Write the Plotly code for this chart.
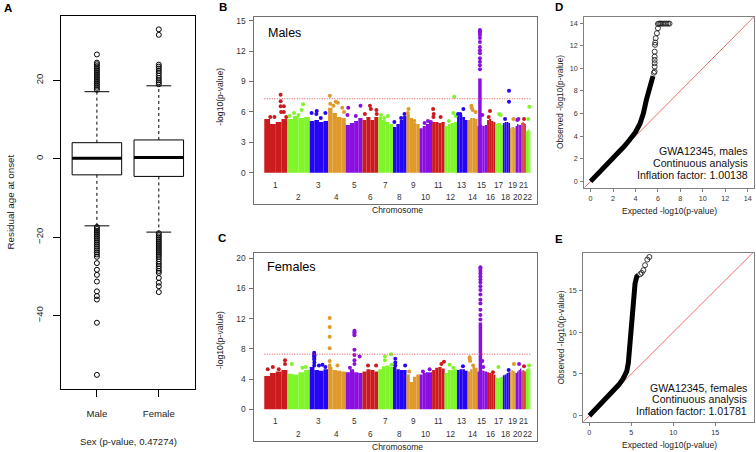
import plotly.graph_objects as go

W, H = 756, 452
FONT = "Liberation Sans, Arial, sans-serif"


def px(x):
    return x / W


def py(y):
    return 1 - y / H


# ---------------- Panel A: residual age at onset by sex ----------------
sex_labels = ["Male", "Female"]
sex_pos = [1, 2]
q1_vals = [-4.1, -4.5]
median_vals = [0.15, 0.3]
q3_vals = [4.1, 4.8]
whisker_lo = [-17.1, -18.7]
whisker_hi = [17.1, 18.6]
male_outliers = [17.6, 18.1, 18.6, 19.1, 19.6, 20.1, 20.6, 21.1, 21.6, 22.1, 22.6, 23.1,
                 23.6, 24.1, 24.5, 26.6,
                 -17.4, -17.9, -18.4, -18.9, -19.4, -19.9, -20.4, -20.9, -21.4, -21.9,
                 -22.4, -22.9, -23.4, -23.9, -24.4, -25.0, -26.6, -28.3, -29.6, -31.3,
                 -33.8, -35.0, -35.9, -41.8, -55.1]
female_outliers = [19.0, 19.5, 20.0, 20.6, 21.2, 21.8, 22.4, 23.0, 23.5, 24.0, 31.6, 33.0,
                   -19.0, -19.5, -20.0, -20.5, -21.0, -21.5, -22.0, -22.5, -23.0, -23.5,
                   -24.0, -24.5, -25.0, -25.6, -26.2, -26.8, -27.4, -28.0, -28.6, -29.1,
                   -30.4, -31.6, -32.5, -34.0]
a_yticks = [-40, -20, 0, 20]

# ---------------- Panels B/C: Manhattan plots ----------------
chrom_labels = [str(i) for i in range(1, 23)]
chrom_len_mb = [249, 243, 198, 191, 181, 171, 159, 146, 141, 136, 135, 134,
                115, 107, 103, 90, 81, 78, 59, 63, 48, 51]
chrom_palette = ["#CB1B1E", "#80F52B", "#2405F5", "#DF9A2B", "#8A10E2"]
gw_threshold = 7.3

males_mass = [
    [5.3, 4.8, 5.0, 5.3], [5.3, 5.6, 5.4, 5.5], [5.1, 5.2, 5.0, 5.1], [6.4, 5.9, 5.5, 5.4],
    [4.7, 4.9, 5.1, 5.4], [5.2, 5.5, 5.2, 5.5], [5.5, 5.2, 5.0, 4.8], [4.5, 4.8, 5.2, 5.6],
    [5.8, 5.4, 4.9, 4.8], [4.4, 4.6, 4.8, 4.9], [5.0, 5.0, 4.9, 5.0], [4.6, 4.8, 4.9, 5.0],
    [5.6, 5.7, 5.5, 5.2], [5.2, 5.4, 5.4, 5.3], [4.6, 4.7, 4.6, 4.7], [5.2, 5.3, 5.1, 5.0],
    [4.8, 4.9, 4.9, 4.7], [4.9, 5.0, 5.0, 4.9], [4.4, 4.5, 4.5, 4.4], [4.6, 4.8, 4.7, 4.7],
    [4.9, 5.0, 4.9, 4.8], [4.1, 4.2, 4.3, 4.1]]
males_hits = [
    (1, 0.71, 7.7), (1, 0.71, 7.05), (1, 0.71, 6.55), (1, 0.73, 6.0), (1, 0.85, 6.55),
    (1, 0.85, 6.0), (1, 0.26, 5.5), (1, 0.44, 5.5), (1, 0.95, 5.5),
    (2, 0.64, 6.2), (2, 0.70, 6.75), (2, 0.3, 5.9), (2, 0.5, 5.7), (2, 0.1, 5.6),
    (3, 0.10, 5.9), (3, 0.38, 6.1), (3, 0.36, 5.8), (3, 0.85, 5.9), (3, 0.6, 5.4),
    (4, 0.10, 7.6), (4, 0.43, 7.0), (4, 0.55, 6.9), (4, 0.8, 6.4), (4, 0.12, 6.8),
    (4, 0.9, 6.0), (4, 0.3, 6.6),
    (5, 0.15, 6.4), (5, 0.88, 6.6), (5, 0.6, 5.6), (5, 0.1, 5.7),
    (6, 0.47, 6.6), (6, 0.53, 6.3), (6, 0.88, 6.2), (6, 0.15, 5.8), (6, 0.9, 5.8),
    (7, 0.18, 5.7), (7, 0.65, 5.6), (7, 0.4, 5.4),
    (8, 0.1, 5.0), (8, 0.85, 5.8), (8, 0.6, 5.4),
    (9, 0.15, 6.3), (9, 0.1, 5.9), (9, 0.6, 5.1),
    (10, 0.67, 5.1), (10, 0.4, 4.9), (10, 0.9, 5.0),
    (11, 0.08, 6.3), (11, 0.13, 5.8), (11, 0.68, 5.5), (11, 0.1, 5.5),
    (12, 0.78, 7.5), (12, 0.7, 5.9), (12, 0.35, 5.1), (12, 0.9, 5.6),
    (13, 0.6, 6.3), (13, 0.1, 5.8), (13, 0.3, 5.8),
    (14, 0.38, 6.6), (14, 0.5, 6.2), (14, 0.8, 6.0), (14, 0.4, 6.4),
    (15, 0.5, 5.7), (16, 0.35, 6.1), (16, 0.2, 5.5), (17, 0.5, 5.8), (17, 0.7, 5.7),
    (18, 0.85, 8.1), (18, 0.85, 7.0), (18, 0.3, 5.3), (19, 0.6, 5.3), (20, 0.5, 5.3),
    (20, 0.3, 5.2), (21, 0.6, 5.3), (22, 0.75, 6.5), (22, 0.5, 5.3)]
males_peak_chrom = 15
males_peak_pos = 0.25
males_peak_dense_top = 9.3
males_peak_values = [14.09, 13.95, 13.8, 13.6, 13.3, 12.9, 12.4, 12.1, 11.8, 11.3,
                     10.96, 10.6, 10.2]

females_mass = [
    [4.4, 4.8, 5.0, 5.2], [4.7, 4.6, 4.9, 5.2], [5.6, 5.2, 5.1, 5.3], [5.6, 5.2, 5.1, 5.0],
    [4.9, 5.3, 4.9, 4.8], [5.0, 5.3, 5.2, 5.0], [5.3, 5.7, 5.8, 5.6], [5.6, 5.3, 5.2, 5.2],
    [4.6, 3.6, 4.3, 4.6], [4.6, 4.8, 4.9, 4.9], [5.2, 5.5, 5.6, 5.4], [4.8, 5.2, 5.2, 5.3],
    [5.2, 5.3, 5.3, 5.1], [5.0, 5.3, 5.6, 5.5], [5.0, 5.2, 5.1, 5.0], [4.9, 4.8, 4.7, 4.6],
    [4.2, 4.1, 4.2, 4.3], [4.5, 4.6, 4.8, 4.9], [5.0, 5.2, 5.1, 5.0], [4.8, 5.0, 5.2, 5.4],
    [5.0, 5.2, 5.1, 5.0], [5.3, 5.4, 5.5, 5.3]]
females_hits = [
    (1, 0.15, 5.3), (1, 0.37, 5.6), (1, 0.9, 6.5), (1, 0.9, 6.0), (1, 0.63, 5.3),
    (2, 0.2, 6.0), (2, 0.82, 5.6), (2, 0.67, 5.5),
    (3, 0.24, 7.5), (3, 0.24, 7.3), (3, 0.25, 7.15), (3, 0.24, 7.0), (3, 0.25, 6.8),
    (3, 0.24, 6.6), (3, 0.25, 6.2), (3, 0.24, 5.8), (3, 0.69, 5.9), (3, 0.5, 5.8),
    (3, 0.85, 5.6),
    (4, 0.09, 12.1), (4, 0.09, 10.9), (4, 0.09, 9.6), (4, 0.09, 8.1), (4, 0.09, 6.4),
    (4, 0.09, 5.8), (4, 0.53, 5.8),
    (5, 0.52, 10.4), (5, 0.52, 10.2), (5, 0.52, 10.0), (5, 0.52, 9.8), (5, 0.52, 7.9),
    (5, 0.52, 7.2), (5, 0.52, 6.5), (5, 0.52, 6.0), (5, 0.83, 7.0), (5, 0.25, 5.5),
    (6, 0.35, 5.8), (6, 0.86, 5.8),
    (7, 0.45, 7.0), (7, 0.45, 6.5), (7, 0.87, 7.3), (7, 0.9, 5.9),
    (8, 0.17, 6.7), (8, 0.17, 6.2), (8, 0.17, 5.8), (8, 0.9, 5.8),
    (9, 0.2, 5.0), (10, 0.27, 5.0), (10, 0.8, 5.3),
    (11, 0.74, 6.0), (11, 0.95, 6.3), (12, 0.4, 5.9), (12, 0.7, 5.5), (13, 0.56, 5.7),
    (14, 0.2, 6.9), (14, 0.2, 6.7), (14, 0.25, 6.4), (14, 0.55, 5.8),
    (15, 0.5, 6.4), (15, 0.6, 5.6), (16, 0.7, 4.9), (17, 0.4, 5.6), (18, 0.8, 5.2),
    (19, 0.7, 6.0), (20, 0.6, 6.0), (21, 0.6, 5.7), (22, 0.7, 5.8)]
females_peak_chrom = 15
females_peak_pos = 0.3
females_peak_dense_top = 11.5
females_peak_values = [18.8, 18.6, 18.3, 18.0, 17.6, 17.2, 16.8, 16.3, 15.8, 15.2, 14.5,
                       14.0, 13.2, 12.5, 11.9]

b_yticks = [0, 3, 6, 9, 12, 15]
c_yticks = [0, 4, 8, 12, 16, 20]

# ---------------- Panels D/E: QQ plots ----------------
qq_m_dense_exp = [0, 1, 2, 3, 3.5, 4.0, 4.4, 4.7, 4.97, 5.27, 5.56]
qq_m_dense_obs = [0, 1.0, 2.05, 3.1, 3.7, 4.35, 5.1, 6.0, 7.2, 8.4, 9.3]
qq_m_tail_exp = [5.64, 5.71, 5.71, 5.71, 5.71, 5.71, 5.71, 5.74, 5.76, 5.8, 5.91, 6.0,
                 6.0, 6.1, 6.2, 6.3, 6.45, 6.6, 6.75, 6.9, 7.03]
qq_m_tail_obs = [9.6, 9.71, 10.15, 10.45, 10.74, 11.03, 11.47, 12.07, 12.27, 12.66, 13.1,
                 13.54, 13.92, 13.95, 13.95, 13.95, 13.95, 13.95, 13.95, 13.95, 13.95]
qq_f_dense_exp = [0, 1, 2, 3, 3.5, 4.0, 4.45, 4.64, 4.76, 4.93, 5.05, 5.24, 5.44, 5.64, 5.83]
qq_f_dense_obs = [0, 1.0, 2.05, 3.1, 3.7, 4.4, 5.3, 6.3, 7.9, 9.8, 11.8, 13.8, 15.8, 16.6, 16.8]
qq_f_tail_exp = [6.05, 6.23, 6.43, 6.63, 6.9, 7.14]
qq_f_tail_obs = [16.9, 17.06, 17.38, 17.98, 18.65, 18.96]
d_ticks = [0, 2, 4, 6, 8, 10, 12, 14]
e_ticks = [0, 5, 10, 15]
qq_text_males = ["GWA12345, males", "Continuous analysis", "Inflation factor: 1.00138"]
qq_text_females = ["GWA12345, females", "Continuous analysis", "Inflation factor: 1.01781"]

fig = go.Figure()

# ---------- Panel A traces ----------
fig.add_trace(go.Box(
    x=sex_pos, q1=q1_vals, median=median_vals, q3=q3_vals,
    lowerfence=q1_vals, upperfence=q3_vals, width=0.8, whiskerwidth=0,
    fillcolor="white", line=dict(color="black", width=1), boxpoints=False,
    xaxis="x", yaxis="y", showlegend=False, hoverinfo="skip"))
for i, xc in enumerate(sex_pos):
    fig.add_trace(go.Scatter(x=[xc - 0.4, xc + 0.4], y=[median_vals[i]] * 2, mode="lines",
                             line=dict(color="black", width=3), xaxis="x", yaxis="y"))
    for a, b in ((q3_vals[i], whisker_hi[i]), (q1_vals[i], whisker_lo[i])):
        fig.add_trace(go.Scatter(x=[xc, xc], y=[a, b], mode="lines",
                                 line=dict(color="black", width=1, dash="3px,3px"),
                                 xaxis="x", yaxis="y"))
        fig.add_trace(go.Scatter(x=[xc - 0.2, xc + 0.2], y=[b, b], mode="lines",
                                 line=dict(color="black", width=1), xaxis="x", yaxis="y"))
for xc, outs in zip(sex_pos, [male_outliers, female_outliers]):
    fig.add_trace(go.Scatter(x=[xc] * len(outs), y=outs, mode="markers",
                             marker=dict(symbol="circle-open", size=5, color="black",
                                         line=dict(width=1)),
                             xaxis="x", yaxis="y"))

# ---------- Manhattan traces ----------
offsets = []
acc = 0
for L in chrom_len_mb:
    offsets.append(acc)
    acc += L
genome_total = acc


def chrom_color(c):
    return chrom_palette[(c - 1) % len(chrom_palette)]


def add_manhattan(mass, hits, pk_chrom, pk_pos, pk_top, pk_vals, xa, ya):
    bx, by, bw, bc = [], [], [], []
    for ci, heights in enumerate(mass):
        n = len(heights)
        seg = chrom_len_mb[ci] / n
        for k, h in enumerate(heights):
            bx.append(offsets[ci] + (k + 0.5) * seg)
            by.append(h)
            bw.append(seg * 1.01)
            bc.append(chrom_color(ci + 1))
    fig.add_trace(go.Bar(x=bx, y=by, width=bw, marker=dict(color=bc, line=dict(width=0)),
                         xaxis=xa, yaxis=ya, hoverinfo="skip"))
    hx = [offsets[c - 1] + p * chrom_len_mb[c - 1] for c, p, v in hits]
    hy = [v for c, p, v in hits]
    hc = [chrom_color(c) for c, p, v in hits]
    fig.add_trace(go.Scatter(x=hx, y=hy, mode="markers",
                             marker=dict(size=4, color=hc, line=dict(width=0)),
                             xaxis=xa, yaxis=ya))
    pkx = offsets[pk_chrom - 1] + pk_pos * chrom_len_mb[pk_chrom - 1]
    fig.add_trace(go.Scatter(x=[pkx, pkx], y=[0, pk_top], mode="lines",
                             line=dict(color=chrom_color(pk_chrom), width=3.5),
                             xaxis=xa, yaxis=ya))
    fig.add_trace(go.Scatter(x=[pkx] * len(pk_vals), y=pk_vals, mode="markers",
                             marker=dict(size=4, color=chrom_color(pk_chrom)),
                             xaxis=xa, yaxis=ya))
    fig.add_trace(go.Scatter(x=[0, genome_total], y=[gw_threshold] * 2, mode="lines",
                             line=dict(color="#E8484B", width=1, dash="1px,1.5px"),
                             xaxis=xa, yaxis=ya))


add_manhattan(males_mass, males_hits, males_peak_chrom, males_peak_pos,
              males_peak_dense_top, males_peak_values, "x2", "y2")
add_manhattan(females_mass, females_hits, females_peak_chrom, females_peak_pos,
              females_peak_dense_top, females_peak_values, "x3", "y3")

# ---------- QQ traces ----------
for dex, dob, tex, tob, xa, ya in (
        (qq_m_dense_exp, qq_m_dense_obs, qq_m_tail_exp, qq_m_tail_obs, "x4", "y4"),
        (qq_f_dense_exp, qq_f_dense_obs, qq_f_tail_exp, qq_f_tail_obs, "x5", "y5")):
    fig.add_trace(go.Scatter(x=[-1, 25], y=[-1, 25], mode="lines",
                             line=dict(color="#E06060", width=0.9), xaxis=xa, yaxis=ya))
    fig.add_trace(go.Scatter(x=dex, y=dob, mode="lines",
                             line=dict(color="black", width=5), xaxis=xa, yaxis=ya))
    fig.add_trace(go.Scatter(x=tex, y=tob, mode="markers",
                             marker=dict(symbol="circle-open", size=5, color="#222",
                                         line=dict(width=0.9)),
                             xaxis=xa, yaxis=ya))

# ---------- Layout ----------
tickfont_a = dict(family=FONT, size=9.6, color="#222")
tickfont_m = dict(family=FONT, size=8.4, color="#333")
tickfont_q = dict(family=FONT, size=7.2, color="#333")
base = dict(showgrid=False, zeroline=False, showline=True, mirror=True, linewidth=1)

fig.update_layout(
    width=W, height=H, margin=dict(l=0, r=0, t=0, b=0),
    paper_bgcolor="white", plot_bgcolor="white", showlegend=False,
    barmode="overlay", font=dict(family=FONT, color="#222"),
    xaxis=dict(base, domain=[px(61), px(194.7)], anchor="y", range=[0.42, 2.58],
               tickvals=sex_pos, ticktext=sex_labels, ticks="outside", ticklen=7,
               tickcolor="black", linecolor="black", tickfont=tickfont_a,
               ticklabelstandoff=8),
    yaxis=dict(base, domain=[py(389), py(16)], anchor="x", range=[-58.7, 36.4],
               tickvals=a_yticks, ticks="outside", ticklen=7, tickcolor="black",
               linecolor="black", tickangle=-90, tickfont=tickfont_a, ticklabelstandoff=6),
    xaxis2=dict(base, domain=[px(254.3), px(537)], anchor="y2", range=[-108, 2949],
                showticklabels=False, ticks="", linecolor="#707070"),
    yaxis2=dict(base, domain=[py(204), py(16.7)], anchor="x2", range=[-3.09, 15.4],
                tickvals=b_yticks, ticks="outside", ticklen=4, tickcolor="#707070",
                linecolor="#707070", tickfont=tickfont_m, ticklabelstandoff=2),
    xaxis3=dict(base, domain=[px(254.3), px(537)], anchor="y3", range=[-108, 2949],
                showticklabels=False, ticks="", linecolor="#707070"),
    yaxis3=dict(base, domain=[py(440.7), py(253.3)], anchor="x3", range=[-4.16, 20.66],
                tickvals=c_yticks, ticks="outside", ticklen=4, tickcolor="#707070",
                linecolor="#707070", tickfont=tickfont_m, ticklabelstandoff=2),
    xaxis4=dict(base, domain=[px(584.3), px(754)], anchor="y4", range=[-0.56, 14.56],
                tickvals=d_ticks, ticks="outside", ticklen=3, tickcolor="#808080",
                linecolor="#808080", tickfont=tickfont_q, ticklabelstandoff=1),
    yaxis4=dict(base, domain=[py(187.7), py(16.7)], anchor="x4", range=[-0.56, 14.56],
                tickvals=d_ticks, ticks="outside", ticklen=3, tickcolor="#808080",
                linecolor="#808080", tickfont=tickfont_q, ticklabelstandoff=1),
    xaxis5=dict(base, domain=[px(583.3), px(754)], anchor="y5", range=[-0.72, 19.6],
                tickvals=e_ticks, ticks="outside", ticklen=3, tickcolor="#808080",
                linecolor="#808080", tickfont=tickfont_q, ticklabelstandoff=1),
    yaxis5=dict(base, domain=[py(421.7), py(253.3)], anchor="x5", range=[-0.7, 19.4],
                tickvals=e_ticks, ticks="outside", ticklen=3, tickcolor="#808080",
                linecolor="#808080", tickfont=tickfont_q, ticklabelstandoff=1),
)

ann = []


def text(x, y, s, size, xanchor="center", angle=0, color="#222", bold=False):
    ann.append(dict(x=px(x), y=py(y), xref="paper", yref="paper", text=f"<b>{s}</b>" if bold else s,
                    showarrow=False, xanchor=xanchor, yanchor="middle", textangle=angle,
                    font=dict(family=FONT, size=size, color=color)))


# panel letters
for lab, x, y in (("A", 1.5, 8), ("B", 216.5, 7.2), ("C", 215.5, 237.5), ("D", 553.3, 7.2),
                  ("E", 553.3, 239)):
    text(x, y, lab, 11.5, xanchor="left", bold=True, color="black")

# panel A titles
text(10, 202.5, "Residual age at onset", 9.8, angle=-90)
text(128, 441, "Sex (p-value, 0.47274)", 9.6)

# Manhattan titles and chromosome labels
text(265.5, 32.7, "Males", 12.5, xanchor="left", color="black")
text(265, 266.7, "Females", 12.7, xanchor="left", color="black")
text(397.5, 210, "Chromosome", 8.5)
text(397.5, 446.7, "Chromosome", 8.5)
text(220, 96.7, "-log10(p-value)", 8.6, angle=-90)
text(220, 340, "-log10(p-value)", 8.6, angle=-90)
for ci, lab in enumerate(chrom_labels):
    cx = offsets[ci] + chrom_len_mb[ci] / 2
    odd = (ci % 2 == 0)
    ann.append(dict(x=cx, y=-1.28 if odd else -2.47, xref="x2", yref="y2", text=lab,
                    showarrow=False, xanchor="center", yanchor="middle",
                    font=dict(family=FONT, size=8.2, color="#333")))
    ann.append(dict(x=cx, y=-1.68 if odd else -3.3, xref="x3", yref="y3", text=lab,
                    showarrow=False, xanchor="center", yanchor="middle",
                    font=dict(family=FONT, size=8.2, color="#333")))

# QQ titles and texts
text(669, 210.7, "Expected -log10(p-value)", 8.5)
text(669, 445, "Expected -log10(p-value)", 8.5)
text(560, 102, "Observed -log10(p-value)", 8.3, angle=-90)
text(560, 337.5, "Observed -log10(p-value)", 8.3, angle=-90)
for s, y in zip(qq_text_males, [151, 163.3, 175]):
    text(750, y, s, 10.6, xanchor="right", color="#111")
for s, y in zip(qq_text_females, [387.7, 399, 410.7]):
    text(749, y, s, 10.6, xanchor="right", color="#111")

fig.update_layout(annotations=ann)
fig.write_html("out.html", config={"displayModeBar": False, "staticPlot": True},
               post_script="document.body.style.margin='0';document.body.style.overflow='hidden';")
